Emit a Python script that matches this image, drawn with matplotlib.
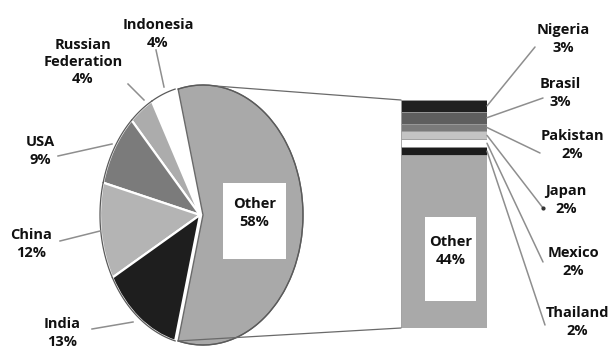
import numpy as np
import matplotlib
matplotlib.use("Agg")
import matplotlib.pyplot as plt
from matplotlib.patches import ConnectionPatch, Rectangle
from matplotlib.lines import Line2D

# Pie: share of the total, counter-clockwise starting with "Other"
pie_labels = ["Other", "Indonesia", "Russian\nFederation", "USA", "China", "India"]
pie_values = [58, 4, 4, 9, 12, 13]
pie_colors = ["#a9a9a9", "#ffffff", "#acacac", "#7b7b7b", "#b4b4b4", "#1e1e1e"]

# Bar: breakdown of the "Other" slice, top to bottom
bar_labels = ["Nigeria", "Brasil", "Pakistan", "Japan", "Mexico", "Thailand", "Other"]
bar_values = [3, 3, 2, 2, 2, 2, 44]
bar_colors = ["#202020", "#5e5e5e", "#7a7a7a", "#c4c4c4", "#ffffff", "#1c1c1c", "#a9a9a9"]

W, H = 610, 356
TEXT = "#111111"
LINE = "#8e8e8e"
plt.rcParams["font.family"] = ["Open Sans", "DejaVu Sans"]
FONT = dict(fontsize=10.5, fontweight="bold", color=TEXT,
            ha="center", va="center", linespacing=1.3)

fig = plt.figure(figsize=(W / 100, H / 100), dpi=100)
fig.patch.set_facecolor("white")


def px(x, y):
    """Pixel position (from top-left) to figure fraction."""
    return x / W, 1 - y / H


# ---- pie (drawn as an ellipse: independent x/y scales) ----
cx, cy, rx, ry = 200, 215, 100, 130
ax_pie = fig.add_axes([0, 0, 1, 1])
explode = [0.03] + [0] * (len(pie_values) - 1)
wedges, _ = ax_pie.pie(pie_values, colors=pie_colors, startangle=-pie_values[0] * 3.6 / 2,
                       counterclock=True, explode=explode,
                       wedgeprops=dict(edgecolor="white", linewidth=1.6))
# dark outline around the rim of each slice
for w in wedges:
    t = np.linspace(np.deg2rad(w.theta1), np.deg2rad(w.theta2), 60)
    ox, oy = w.center
    ax_pie.plot(ox + np.cos(t), oy + np.sin(t), color="#5a5a5a", lw=0.9, zorder=3)
# "Other" wedge outlined fully
wedges[0].set_edgecolor("#6a6a6a")
wedges[0].set_linewidth(1.0)

ax_pie.set_aspect("auto")
ax_pie.set_xlim(-cx / rx, (W - cx) / rx)
ax_pie.set_ylim(-(H - cy) / ry, cy / ry)
ax_pie.axis("off")

# ---- stacked bar for the breakdown ----
ax_bar = fig.add_axes([401 / W, 1 - 328 / H, 86 / W, 228 / H])
total = sum(bar_values)
top = total
mids = []
for v, c in zip(bar_values, bar_colors):
    ax_bar.bar(0, v, bottom=top - v, width=1.0, color=c, edgecolor="#9a9a9a", linewidth=0.6)
    mids.append(top - v / 2)
    top -= v
ax_bar.set_xlim(-0.5, 0.5)
ax_bar.set_ylim(0, total)
ax_bar.axis("off")

# connectors from the exploded slice to the bar
ox, oy = wedges[0].center
for ang, ybar in [(83, total), (-104.4, 0)]:
    a = np.deg2rad(ang)
    con = ConnectionPatch(xyA=(ox + np.cos(a), oy + np.sin(a)), coordsA=ax_pie.transData,
                          xyB=(-0.5, ybar), coordsB=ax_bar.transData,
                          color="#6a6a6a", lw=0.9)
    fig.add_artist(con)

# ---- "Other" value boxes ----
for (x0, y0, x1, y1), txt in [((223, 183, 286, 259), f"Other\n{pie_values[0]}%"),
                              ((425, 217, 476, 301), f"Other\n{bar_values[-1]}%")]:
    bx, by = px(x0, y1)
    fig.add_artist(Rectangle((bx, by), (x1 - x0) / W, (y1 - y0) / H,
                             transform=fig.transFigure, facecolor="white",
                             edgecolor="none", zorder=5))
    fig.text(*px((x0 + x1) / 2, (y0 + y1) / 2 - 8), txt, zorder=6, **FONT)

# ---- pie labels with leader lines ----
pie_label_pos = {
    "Indonesia": ((158, 34), (156, 50), (164, 87)),
    "Russian\nFederation": ((83, 62), (128, 84), (144, 100)),
    "USA": ((40, 151), (58, 156), (112, 144)),
    "China": ((31, 244), (60, 241), (100, 231)),
    "India": ((62, 333), (92, 329), (133, 322)),
}
for name, v in zip(pie_labels[1:], pie_values[1:]):
    (tx, ty), p0, p1 = pie_label_pos[name]
    fig.text(*px(tx, ty), f"{name}\n{v}%", **FONT)
    fig.add_artist(Line2D([p0[0] / W, p1[0] / W], [1 - p0[1] / H, 1 - p1[1] / H],
                          transform=fig.transFigure, color=LINE, lw=1.1))

# ---- bar labels with leader lines ----
bar_label_pos = {
    "Nigeria": ((563, 39), (535, 47)),
    "Brasil": ((560, 93), (543, 98)),
    "Pakistan": ((572, 145), (540, 153)),
    "Japan": ((566, 200), (543, 208)),
    "Mexico": ((573, 262), (543, 262)),
    "Thailand": ((577, 322), (545, 325)),
}
for name, v, m in zip(bar_labels[:-1], bar_values[:-1], mids[:-1]):
    (tx, ty), end = bar_label_pos[name]
    fig.text(*px(tx, ty), f"{name}\n{v}%", **FONT)
    con = ConnectionPatch(xyA=(0.5, m), coordsA=ax_bar.transData,
                          xyB=px(*end), coordsB=fig.transFigure,
                          color=LINE, lw=1.1)
    fig.add_artist(con)
    if name == "Japan":
        fig.add_artist(Line2D([end[0] / W], [1 - end[1] / H], marker="o", ms=2,
                              color="#333333", transform=fig.transFigure))

fig.savefig("out.png", dpi=100, facecolor="white")
